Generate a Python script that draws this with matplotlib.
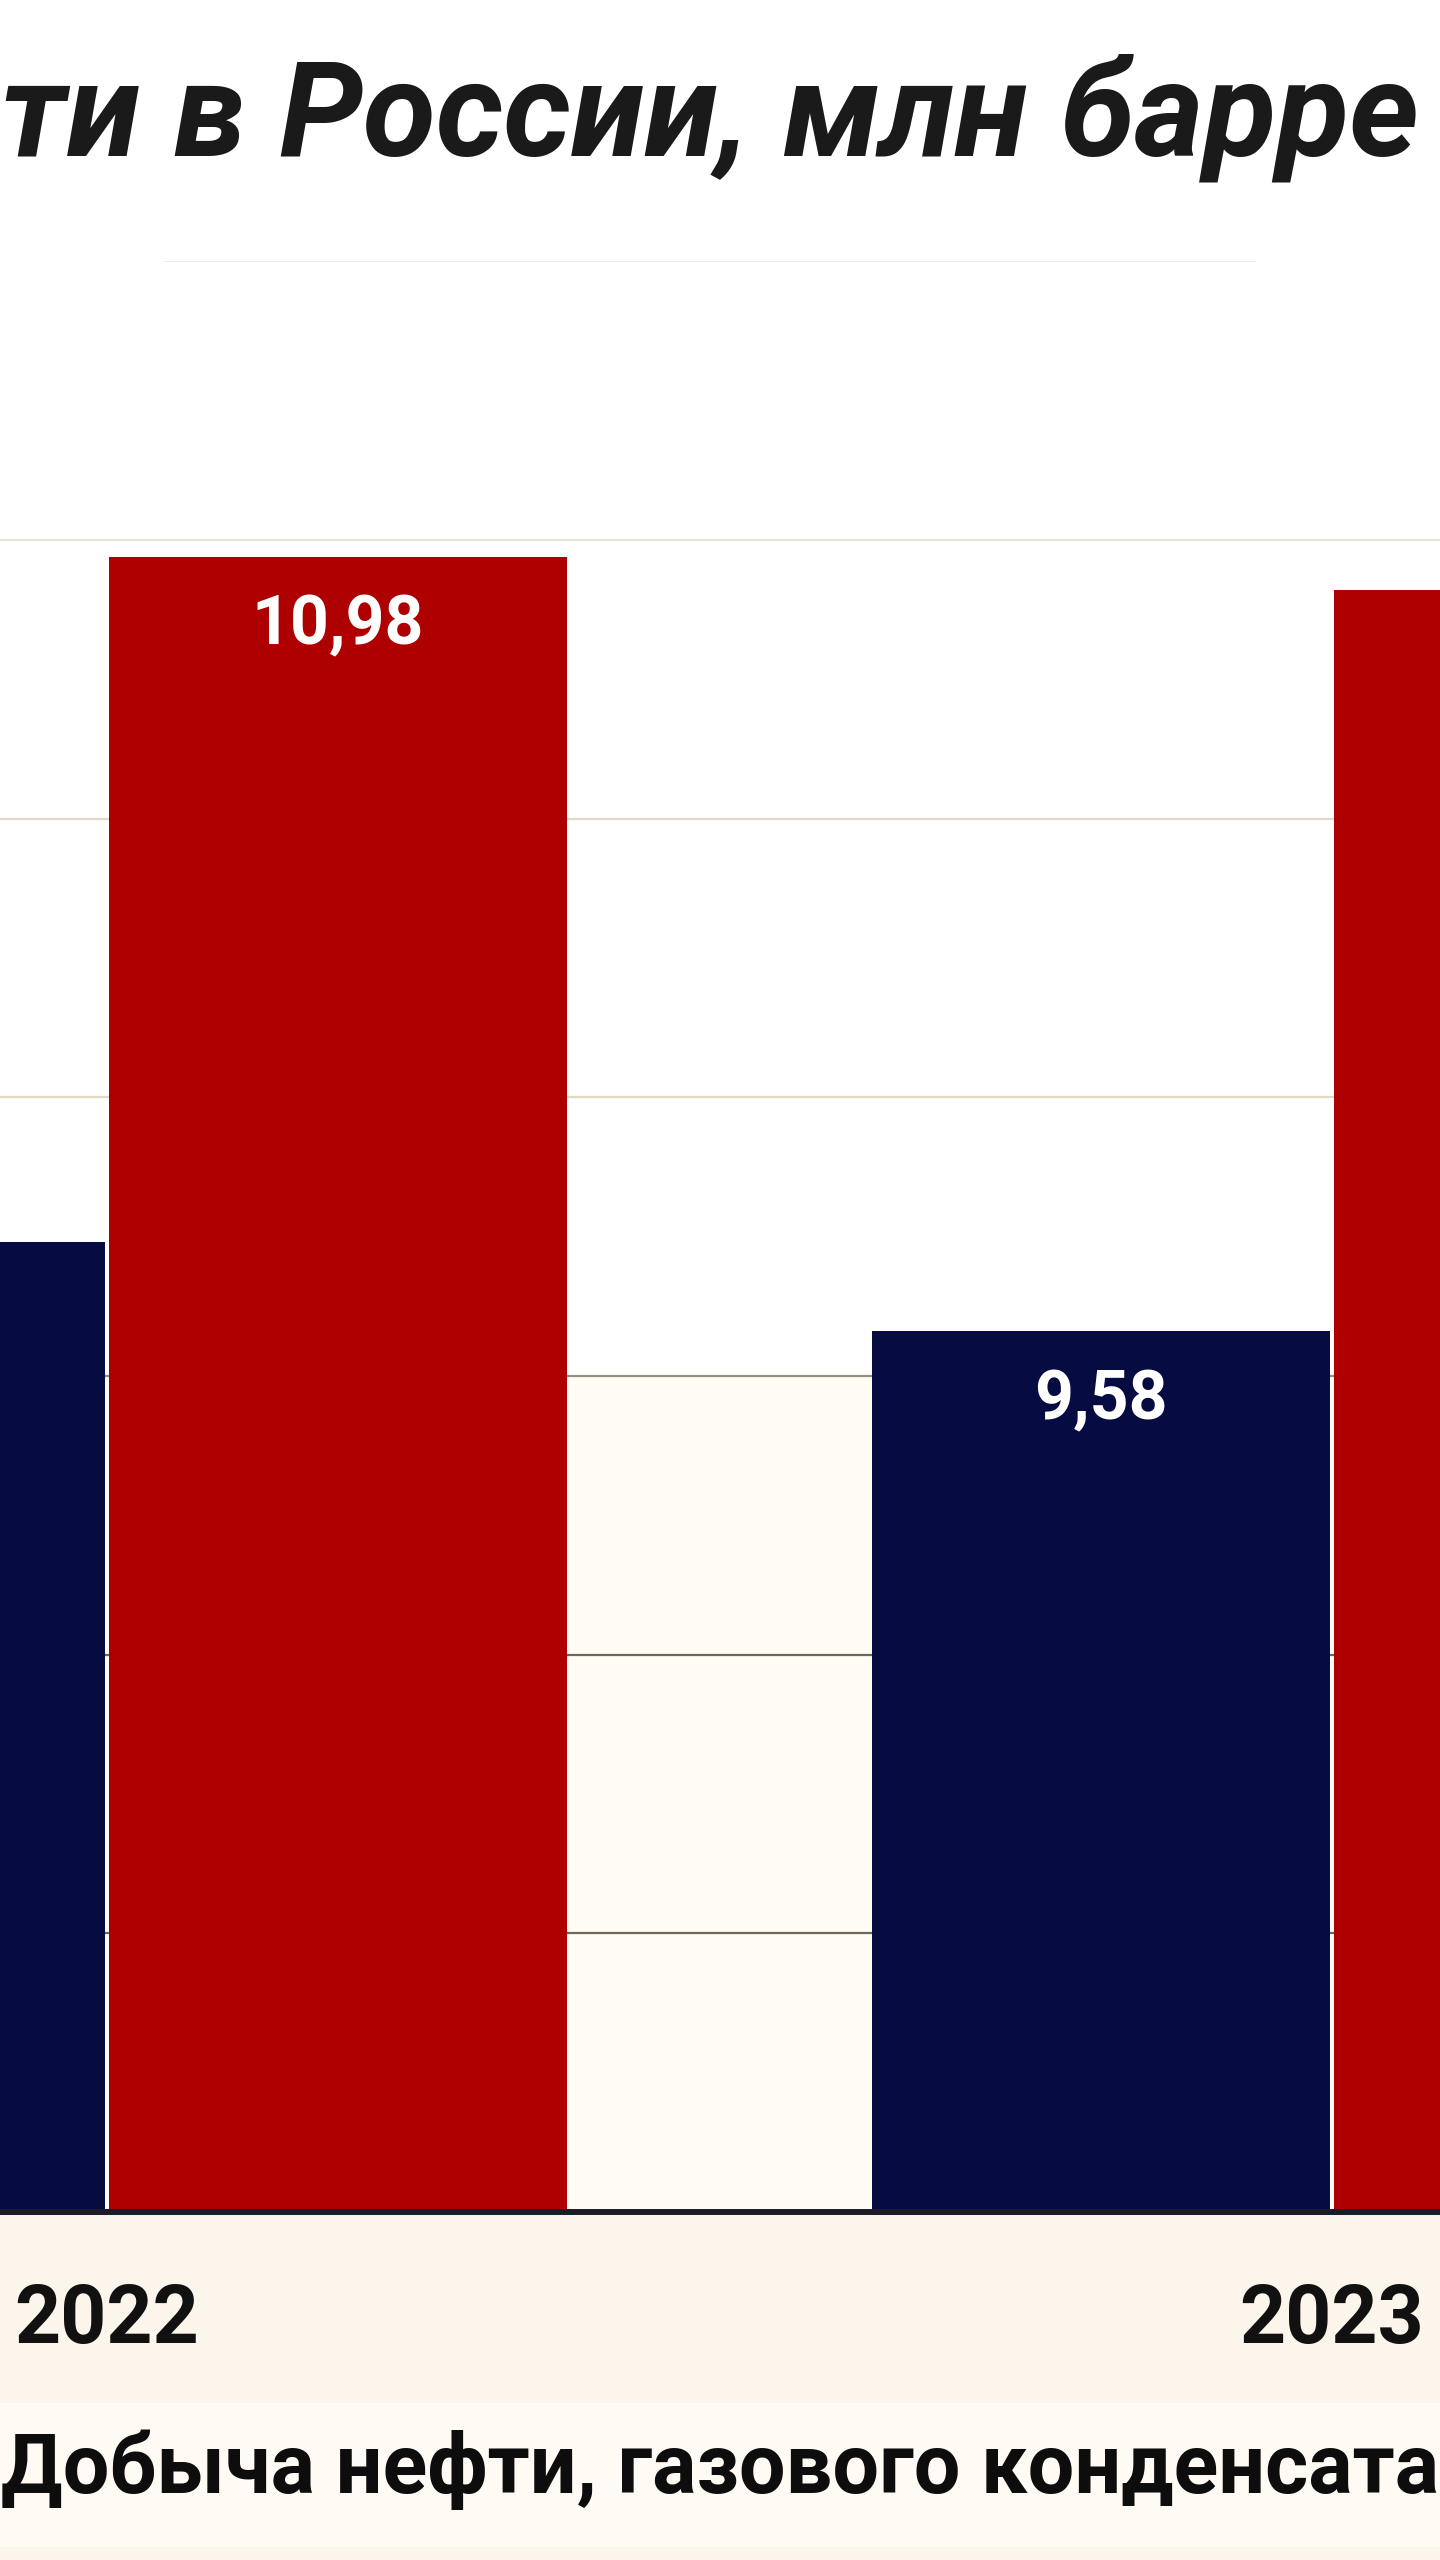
import matplotlib.pyplot as plt
from matplotlib.patches import Rectangle

# данные (видимый фрагмент графика)
years = ['2022', '2023']
blue_vals = [9.74, 9.58]
red_vals = [10.97, 10.91]
blue_labels = ['', '9,58']
red_labels = ['10,98', '']
grid_levels = [8.5, 9.0, 9.5, 10.0, 10.5, 11.0]
grid_colors = ['#6f675c', '#6f675c', '#9a8e7c', '#e2d9c4', '#e2d9c4', '#e8e6e2']

title_text = 'ти в России, млн барре'
legend_text = 'Добыча нефти, газового конденсата'

BLUE = '#060b42'
RED = '#ae0000'


def main():
    plt.rcParams['font.family'] = ['Roboto', 'DejaVu Sans']

    fig = plt.figure(figsize=(14.4, 25.6), dpi=100)
    fig.patch.set_facecolor('white')

    # нижняя кремовая подложка и светлая полоса легенды
    fig.patches.append(Rectangle((0, 0), 1, 0.1359, transform=fig.transFigure,
                                 facecolor='#fcf5eb', edgecolor='none', zorder=-2))
    fig.patches.append(Rectangle((0, 1 - 2547 / 2560), 1, (2547 - 2403) / 2560,
                                 transform=fig.transFigure,
                                 facecolor='#fffaf4', edgecolor='none', zorder=-1))

    ax = fig.add_axes([0, 0.1359, 1, 0.898 - 0.1359])
    ax.set_facecolor('white')
    ax.axhspan(8, 9.5, color='#fffcf4', zorder=0, lw=0)

    x = list(range(len(years)))
    w = 0.374
    off = 0.1886

    for lvl, c in zip(grid_levels, grid_colors):
        ax.axhline(lvl, color=c, lw=1.6, zorder=1)
    ax.hlines(11.5, 0.046, 0.939, color='#efefef', lw=1.4, zorder=1)

    xb = [i - off for i in x]
    xr = [i + off for i in x]
    ax.bar(xb, [v - 8 for v in blue_vals], width=w, bottom=8, color=BLUE, zorder=2)
    ax.bar(xr, [v - 8 for v in red_vals], width=w, bottom=8, color=RED, zorder=2)

    for xi, v, lab in list(zip(xb, blue_vals, blue_labels)) + list(zip(xr, red_vals, red_labels)):
        if lab:
            ax.annotate(lab, (xi, v), xytext=(0, -50), textcoords='offset points',
                        ha='center', va='center', color='white', fontsize=49,
                        fontweight='bold', zorder=3)

    ax.set_xlim(-0.0873, 1.0882)
    ax.set_ylim(8, 11.5)
    ax.set_yticks([])
    ax.set_xticks(x)
    ax.set_xticklabels(years, fontsize=58, fontweight='bold', color='#111111')
    ax.tick_params(axis='x', length=0, pad=50)
    for s in ['top', 'left', 'right']:
        ax.spines[s].set_visible(False)
    ax.spines['bottom'].set_linewidth(4.3)
    ax.spines['bottom'].set_color('#1c1c28')
    ax.spines['bottom'].set_zorder(4)

    fig.text(0.001, 1 - 155 / 2560, title_text, fontsize=96, fontweight='bold',
             fontstyle='italic', color='#1a1a1a', ha='left', va='baseline')
    fig.text(0.001, 1 - 2493 / 2560, legend_text, fontsize=59.5, fontweight='bold',
             color='#0d0d0d', ha='left', va='baseline')

    fig.savefig('out.png', dpi=100, facecolor=fig.get_facecolor())


if __name__ == '__main__':
    main()
